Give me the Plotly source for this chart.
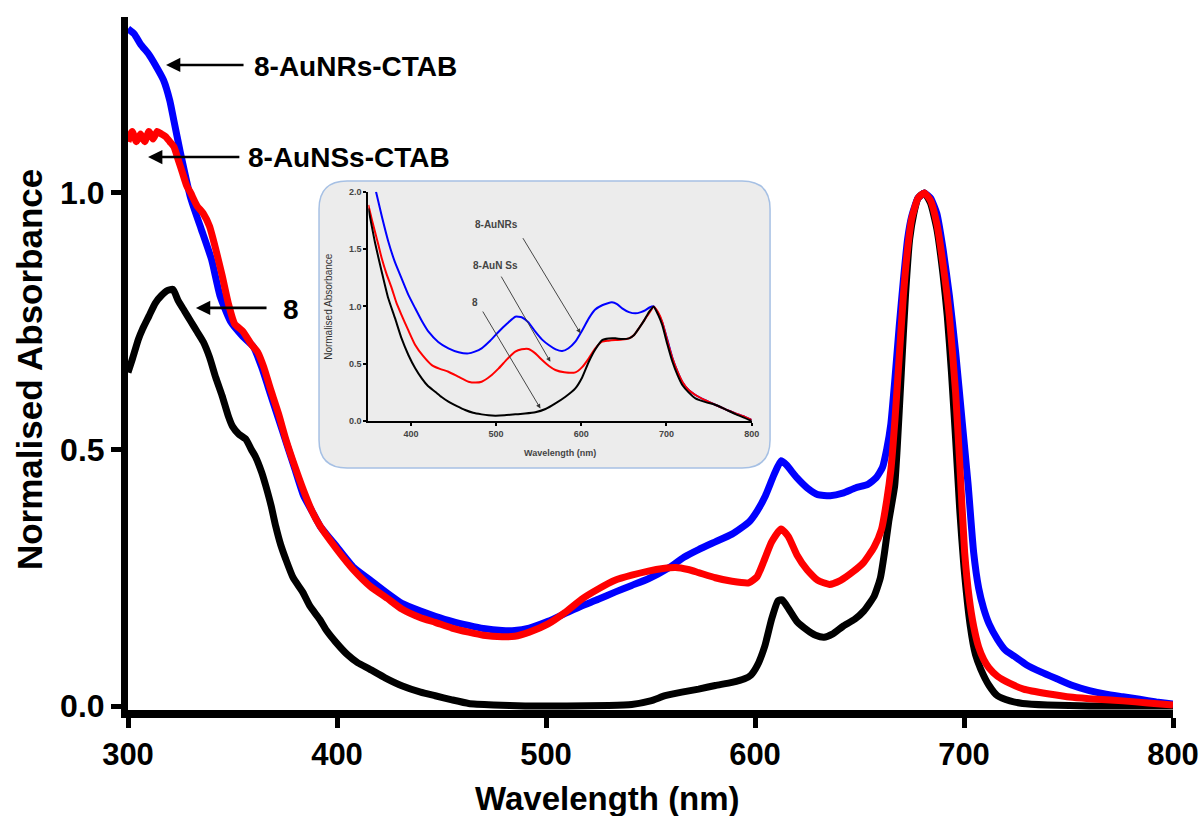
import plotly.graph_objects as go

# ---------------- main spectra ----------------
wl_nr = [300, 303, 306, 310, 313, 317, 320, 322, 325, 330, 335, 340, 344, 349, 355, 360, 364,
         368, 372, 376, 380, 384, 388, 392, 400, 408, 416, 424, 431, 440, 447, 455, 463, 470,
         479, 485, 492, 501, 510, 517, 525, 533, 541, 549, 559, 566, 573, 581, 589, 597, 601,
         605, 609, 612.5, 615, 620, 625, 630, 636, 642, 648, 654, 658, 661, 663, 665, 667, 669,
         671, 673, 675, 678, 681, 684, 687, 690, 693, 696, 699, 702, 704.6, 707, 709.4, 712,
         716, 720, 724, 730, 737, 745, 752, 760, 768, 776, 784, 792, 800]
abs_nr = [1.32, 1.31, 1.29, 1.27, 1.25, 1.22, 1.18, 1.14, 1.08, 0.99, 0.93, 0.87, 0.80, 0.75,
          0.72, 0.70, 0.66, 0.61, 0.56, 0.51, 0.46, 0.41, 0.38, 0.35, 0.31, 0.27, 0.245, 0.22,
          0.20, 0.185, 0.175, 0.165, 0.157, 0.151, 0.147, 0.147, 0.152, 0.165, 0.182, 0.195,
          0.208, 0.222, 0.235, 0.248, 0.27, 0.29, 0.305, 0.32, 0.335, 0.358, 0.38, 0.41, 0.45,
          0.478, 0.47, 0.445, 0.425, 0.412, 0.41, 0.415, 0.425, 0.432, 0.445, 0.465, 0.50, 0.55,
          0.64, 0.74, 0.83, 0.91, 0.955, 0.99, 1.0, 0.99, 0.96, 0.89, 0.80, 0.69, 0.56, 0.43,
          0.30, 0.23, 0.19, 0.16, 0.13, 0.108, 0.097, 0.08, 0.066, 0.052, 0.040, 0.030, 0.023,
          0.018, 0.013, 0.008, 0.004]

wl_ns = [300, 302, 304, 306, 308, 310, 312, 314, 316, 318, 320, 322, 324, 326, 328, 330, 333,
         336, 339, 342, 345, 348, 351, 355, 359, 362, 365, 368, 372, 375.5, 380, 384, 388, 392,
         400, 408, 416, 424, 431, 440, 447, 455, 463, 470, 479, 485, 492, 501, 509, 517, 525,
         533, 541, 549, 556, 562, 568, 573, 581, 589, 597, 601, 604, 608, 612.5, 616, 620, 625,
         630, 635.7, 641, 647, 652, 657, 660.5, 663, 665, 667, 669, 671, 673, 675, 678, 681,
         684, 687, 690, 693, 696, 698, 700.3, 702.5, 704.6, 707, 709.4, 712, 716, 722, 728.5,
         740, 752, 764, 776, 788, 800]
abs_ns = [1.10, 1.12, 1.10, 1.115, 1.10, 1.12, 1.105, 1.12, 1.115, 1.11, 1.10, 1.09, 1.065,
          1.04, 1.015, 1.00, 0.975, 0.96, 0.935, 0.89, 0.84, 0.785, 0.745, 0.73, 0.705, 0.69,
          0.66, 0.62, 0.57, 0.52, 0.465, 0.42, 0.38, 0.35, 0.305, 0.265, 0.233, 0.21, 0.189,
          0.172, 0.163, 0.152, 0.144, 0.138, 0.135, 0.136, 0.144, 0.16, 0.182, 0.208, 0.228,
          0.245, 0.255, 0.263, 0.268, 0.27, 0.266, 0.26, 0.25, 0.243, 0.24, 0.252, 0.28, 0.32,
          0.345, 0.33, 0.295, 0.265, 0.245, 0.237, 0.245, 0.262, 0.28, 0.31, 0.344, 0.40, 0.46,
          0.56, 0.68, 0.80, 0.89, 0.95, 0.99, 1.0, 0.985, 0.94, 0.86, 0.76, 0.61, 0.47, 0.30,
          0.21, 0.156, 0.115, 0.091, 0.074, 0.058, 0.044, 0.033, 0.024, 0.017, 0.013, 0.01,
          0.006, 0.002]

wl_8 = [300, 302, 305, 307, 310, 313, 316, 319, 321.5, 324, 327, 330, 333, 336, 339, 342, 345,
        348, 350, 353, 356.4, 359, 361, 364, 366, 368.5, 370.7, 373, 375.5, 379, 383.6, 387,
        391.7, 395, 399.3, 405, 410, 415.6, 423, 431.3, 440, 447, 455, 463, 475, 490, 510, 530,
        541, 550, 557, 565, 573, 581, 589, 595, 598, 601, 604.7, 608, 611, 613, 616, 620, 625,
        629, 633, 637, 642, 647.7, 652, 657, 660, 662, 664, 666.8, 668, 670, 672, 674, 676, 678,
        681, 684, 687, 690, 692, 694, 696, 698, 700, 703, 705.5, 708, 712, 716, 722, 728, 740,
        760, 800]
abs_8 = [0.65, 0.675, 0.715, 0.735, 0.76, 0.785, 0.80, 0.81, 0.812, 0.79, 0.77, 0.75, 0.73,
         0.71, 0.68, 0.64, 0.605, 0.565, 0.545, 0.53, 0.52, 0.50, 0.486, 0.455, 0.428, 0.39,
         0.35, 0.315, 0.286, 0.25, 0.222, 0.195, 0.169, 0.147, 0.125, 0.10, 0.084, 0.072, 0.055,
         0.039, 0.027, 0.02, 0.012, 0.005, 0.002, 0.0, 0.0, 0.001, 0.003, 0.01, 0.02, 0.027,
         0.033, 0.04, 0.046, 0.053, 0.06, 0.078, 0.117, 0.17, 0.205, 0.207, 0.19, 0.165, 0.148,
         0.138, 0.134, 0.14, 0.155, 0.169, 0.185, 0.214, 0.25, 0.30, 0.36, 0.428, 0.50, 0.65,
         0.80, 0.91, 0.96, 0.99, 1.0, 0.98, 0.93, 0.84, 0.76, 0.65, 0.52, 0.38, 0.27, 0.156,
         0.10, 0.072, 0.04, 0.02, 0.01, 0.005, 0.002, 0.0, 0.0]

# ---------------- inset spectra (without CTAB) ----------------
in_wl_nr = [359, 366, 373.5, 381, 389, 397, 405, 413, 420.6, 432, 444, 456, 467.6, 475, 483, 493,
            503, 513, 522.5, 530, 538, 546, 554, 561.8, 570, 577.5, 585, 593, 601, 608.8, 616,
            624.5, 636, 642, 648, 656, 663.7, 670, 675.5, 680, 685, 690, 695, 701, 707, 713,
            718.6, 726, 734, 746, 757.8, 770, 781, 791, 800]
in_abs_nr = [2.0, 1.78, 1.564, 1.39, 1.244, 1.10, 0.983, 0.87, 0.779, 0.69, 0.634, 0.60, 0.59,
             0.605, 0.634, 0.70, 0.779, 0.85, 0.91, 0.905, 0.86, 0.779, 0.71, 0.663, 0.625,
             0.61, 0.635, 0.692, 0.79, 0.895, 0.97, 1.01, 1.035, 1.02, 0.983, 0.95, 0.939,
             0.95, 0.968, 0.99, 1.0, 0.94, 0.86, 0.71, 0.55, 0.43, 0.34, 0.27, 0.227, 0.18,
             0.14, 0.10, 0.067, 0.04, 0.01]

in_wl_ns = [350, 354, 357.8, 362, 365.7, 371, 377.5, 383, 389, 397, 405, 414, 424.5, 434, 444,
            456, 467.6, 476, 483, 493, 503, 513, 522.5, 530, 538, 546, 554, 562, 569.6, 580,
            593, 601, 608.8, 616, 624.5, 632, 640, 648, 656, 662, 667.6, 674, 679.4, 685, 690,
            695, 701, 707, 713, 718.6, 726, 734, 746, 757.8, 770, 781, 791, 800]
in_abs_ns = [1.884, 1.76, 1.651, 1.53, 1.419, 1.29, 1.157, 1.03, 0.924, 0.79, 0.663, 0.57,
             0.488, 0.455, 0.43, 0.385, 0.343, 0.335, 0.343, 0.39, 0.459, 0.54, 0.605, 0.625,
             0.628, 0.59, 0.532, 0.48, 0.445, 0.425, 0.424, 0.47, 0.547, 0.63, 0.692, 0.70,
             0.706, 0.71, 0.721, 0.75, 0.808, 0.88, 0.939, 0.997, 0.95, 0.866, 0.70, 0.547,
             0.43, 0.343, 0.27, 0.227, 0.18, 0.14, 0.10, 0.067, 0.04, 0.01]

in_wl_8 = [350, 358, 365.7, 373, 381.4, 389, 397, 405, 412.7, 420, 428.4, 436, 444, 454, 463.7,
           473, 483, 491, 499, 510, 522.5, 534, 546, 558, 569.6, 581, 593, 601, 608.8, 616,
           624.5, 632, 640, 648, 656, 662, 667.6, 674, 679.4, 685, 690, 695, 701, 707, 713,
           718.6, 726, 734, 746, 757.8, 770, 781, 791, 800]
in_abs_8 = [1.855, 1.55, 1.302, 1.08, 0.895, 0.72, 0.576, 0.46, 0.372, 0.305, 0.256, 0.21,
            0.169, 0.13, 0.096, 0.072, 0.058, 0.05, 0.047, 0.05, 0.058, 0.065, 0.076, 0.105,
            0.154, 0.21, 0.285, 0.38, 0.517, 0.62, 0.706, 0.72, 0.721, 0.715, 0.721, 0.75,
            0.808, 0.88, 0.95, 0.997, 0.93, 0.837, 0.67, 0.517, 0.40, 0.314, 0.25, 0.198,
            0.165, 0.14, 0.10, 0.06, 0.03, 0.0]

x_ticks = [300, 400, 500, 600, 700, 800]
y_ticks = [0.0, 0.5, 1.0]
in_x_ticks = [400, 500, 600, 700, 800]
in_y_ticks = [0.0, 0.5, 1.0, 1.5, 2.0]

FONT = "Arial, Liberation Sans, sans-serif"
BLUE, RED, BLACK = "#0000ff", "#ff0000", "#000000"

fig = go.Figure()

# main traces (red drawn last so it sits on top)
for wl, ab, col in [(wl_8, abs_8, BLACK), (wl_nr, abs_nr, BLUE), (wl_ns, abs_ns, RED)]:
    fig.add_trace(go.Scatter(x=wl, y=ab, mode="lines",
                             line=dict(color=col, width=7, shape="spline", smoothing=0.5),
                             xaxis="x", yaxis="y", showlegend=False, hoverinfo="skip"))

# inset traces
for wl, ab, col in [(in_wl_nr, in_abs_nr, BLUE), (in_wl_ns, in_abs_ns, RED), (in_wl_8, in_abs_8, BLACK)]:
    fig.add_trace(go.Scatter(x=wl, y=ab, mode="lines",
                             line=dict(color=col, width=2, shape="spline", smoothing=0.5),
                             xaxis="x2", yaxis="y2", showlegend=False, hoverinfo="skip"))

# rounded inset panel
x0, x1, y0, y1 = 0.1828, 0.6144, 0.3492, 0.7633
rx, ry = 0.0268, 0.0404
panel = (f"M {x0+rx},{y0} L {x1-rx},{y0} Q {x1},{y0} {x1},{y0+ry} "
         f"L {x1},{y1-ry} Q {x1},{y1} {x1-rx},{y1} "
         f"L {x0+rx},{y1} Q {x0},{y1} {x0},{y1-ry} "
         f"L {x0},{y0+ry} Q {x0},{y0} {x0+rx},{y0} Z")
fig.add_shape(type="path", path=panel, xref="paper", yref="paper", layer="below",
              fillcolor="#ececec", line=dict(color="#a6c0e4", width=1.5))

ann = []
# main labels with arrows
for head_x, head_y, tail_x, txt_x, txt_y, txt in [
        (318.2, 1.2495, 356.0, 359.3, 1.2456, "8-AuNRs-CTAB"),
        (309.6, 1.070, 354.0, 356.5, 1.070, "8-AuNSs-CTAB"),
        (332.5, 0.776, 367.0, 373.2, 0.772, "8")]:
    ann.append(dict(x=head_x, y=head_y, ax=tail_x, ay=head_y, xref="x", yref="y",
                    axref="x", ayref="y", text="", showarrow=True, arrowhead=2,
                    arrowsize=1.1, arrowwidth=2.6, arrowcolor=BLACK))
    ann.append(dict(x=txt_x, y=txt_y, xref="x", yref="y", text=f"<b>{txt}</b>",
                    showarrow=False, xanchor="left", yanchor="middle",
                    font=dict(family=FONT, size=28, color=BLACK)))

# inset labels with arrows
for head_x, head_y, tail_x, tail_y, txt_x, txt_y, txt in [
        (599, 0.765, 530.4, 1.608, 501, 1.71, "8-AuNRs"),
        (563.7, 0.517, 505, 1.273, 499, 1.355, "8-AuN Ss"),
        (552, 0.11, 483.3, 0.968, 475.5, 1.03, "8")]:
    ann.append(dict(x=head_x, y=head_y, ax=tail_x, ay=tail_y, xref="x2", yref="y2",
                    axref="x2", ayref="y2", text="", showarrow=True, arrowhead=2,
                    arrowsize=1.0, arrowwidth=0.9, arrowcolor="#333333"))
    ann.append(dict(x=txt_x, y=txt_y, xref="x2", yref="y2", text=f"<b>{txt}</b>",
                    showarrow=False, xanchor="center", yanchor="middle",
                    font=dict(family=FONT, size=10, color="#444444")))

# axis titles
ann.append(dict(x=0.459, y=-0.128, xref="paper", yref="paper", text="<b>Wavelength (nm)</b>",
                showarrow=False, xanchor="center", yanchor="middle",
                font=dict(family=FONT, size=33, color=BLACK)))
ann.append(dict(x=-0.0947, y=0.4906, xref="paper", yref="paper",
                text="<b>Normalised Absorbance</b>", textangle=-90, showarrow=False,
                xanchor="center", yanchor="middle", font=dict(family=FONT, size=35, color=BLACK)))
ann.append(dict(x=0.4135, y=0.3715, xref="paper", yref="paper", text="<b>Wavelength (nm)</b>",
                showarrow=False, xanchor="center", yanchor="middle",
                font=dict(family=FONT, size=9, color="#444444")))
ann.append(dict(x=0.1925, y=0.582, xref="paper", yref="paper", text="Normalised Absorbance",
                textangle=-90, showarrow=False, xanchor="center", yanchor="middle",
                font=dict(family=FONT, size=10, color="#333333")))

fig.update_layout(
    width=1203, height=816,
    margin=dict(l=128, r=30, t=17, b=106, autoexpand=False),
    paper_bgcolor="white", plot_bgcolor="rgba(0,0,0,0)",
    showlegend=False,
    annotations=ann,
    xaxis=dict(range=[300, 800], tickvals=x_ticks, ticktext=[f"<b>{v}</b>" for v in x_ticks],
               showgrid=False, zeroline=False, showline=True, linecolor=BLACK, linewidth=8,
               ticks="outside", ticklen=10, tickwidth=5, tickcolor=BLACK, automargin=False,
               tickfont=dict(family=FONT, size=31, color=BLACK), domain=[0, 1]),
    yaxis=dict(range=[-0.0078, 1.343], tickvals=y_ticks,
               ticktext=[f"<b>{v:.1f}</b>" for v in y_ticks],
               showgrid=False, zeroline=False, showline=True, linecolor=BLACK, linewidth=7,
               ticks="outside", ticklen=10, tickwidth=5, tickcolor=BLACK, automargin=False,
               tickfont=dict(family=FONT, size=32, color=BLACK), domain=[0, 1]),
    xaxis2=dict(range=[350, 800], tickvals=in_x_ticks, ticktext=[f"<b>{v}</b>" for v in in_x_ticks],
                showgrid=False, zeroline=False, showline=True, linecolor=BLACK, linewidth=2,
                ticks="outside", ticklen=3, tickwidth=1.5, tickcolor=BLACK, automargin=False,
                tickfont=dict(family=FONT, size=9, color="#444444"),
                domain=[0.23, 0.5968], anchor="y2"),
    yaxis2=dict(range=[0, 2.0], tickvals=in_y_ticks, ticktext=[f"<b>{v:.1f}</b>" for v in in_y_ticks],
                showgrid=False, zeroline=False, showline=True, linecolor=BLACK, linewidth=2,
                ticks="outside", ticklen=3, tickwidth=1.5, tickcolor=BLACK, automargin=False,
                tickfont=dict(family=FONT, size=9, color="#444444"),
                domain=[0.417, 0.7479], anchor="x2"),
)

fig.write_html("out.html")
